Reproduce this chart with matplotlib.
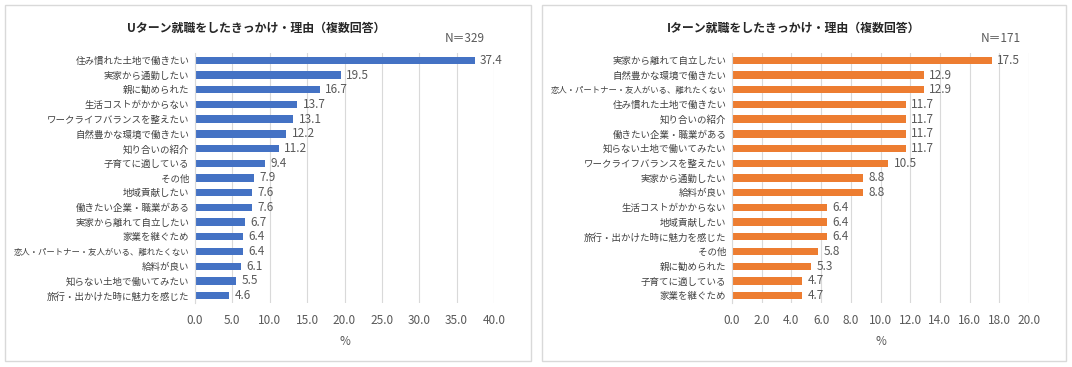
import matplotlib.pyplot as plt
from matplotlib.patches import Rectangle

plt.rcParams['font.family'] = ['Noto Sans CJK JP', 'DejaVu Sans']

# Uターン
u_labels = ['住み慣れた土地で働きたい', '実家から通勤したい', '親に勧められた', '生活コストがかからない',
            'ワークライフバランスを整えたい', '自然豊かな環境で働きたい', '知り合いの紹介', '子育てに適している',
            'その他', '地域貢献したい', '働きたい企業・職業がある', '実家から離れて自立したい',
            '家業を継ぐため', '恋人・パートナー・友人がいる、離れたくない', '給料が良い',
            '知らない土地で働いてみたい', '旅行・出かけた時に魅力を感じた']
u_values = [37.4, 19.5, 16.7, 13.7, 13.1, 12.2, 11.2, 9.4, 7.9, 7.6, 7.6, 6.7, 6.4, 6.4, 6.1, 5.5, 4.6]

# Iターン
i_labels = ['実家から離れて自立したい', '自然豊かな環境で働きたい', '恋人・パートナー・友人がいる、離れたくない',
            '住み慣れた土地で働きたい', '知り合いの紹介', '働きたい企業・職業がある', '知らない土地で働いてみたい',
            'ワークライフバランスを整えたい', '実家から通勤したい', '給料が良い', '生活コストがかからない',
            '地域貢献したい', '旅行・出かけた時に魅力を感じた', 'その他', '親に勧められた',
            '子育てに適している', '家業を継ぐため']
i_values = [17.5, 12.9, 12.9, 11.7, 11.7, 11.7, 11.7, 10.5, 8.8, 8.8, 6.4, 6.4, 6.4, 5.8, 5.3, 4.7, 4.7]

W, H = 1072, 367
TXT = '#595959'
GRID = '#D9D9D9'

fig = plt.figure(figsize=(W / 100, H / 100), dpi=100)


def px_axes(x0, y0, x1, y1):
    return fig.add_axes([x0 / W, 1 - y1 / H, (x1 - x0) / W, (y1 - y0) / H])


def panel(box, ax_box, labels, values, color, xmax, step, title, title_x, n_text, n_x):
    bx0, by0, bx1, by1 = box
    fig.patches.append(Rectangle((bx0 / W, 1 - by1 / H), (bx1 - bx0) / W, (by1 - by0) / H,
                                 transform=fig.transFigure, fill=False, edgecolor='#D9D9D9', lw=1))
    ax = px_axes(*ax_box)
    y = list(range(len(labels)))
    bars = ax.barh(y, values, height=0.5, color=color)
    ax.set_ylim(len(labels) - 0.5, -0.5)
    ax.set_xlim(0, xmax)
    ticks = [i * step for i in range(int(round(xmax / step)) + 1)]
    ax.set_xticks(ticks)
    ax.set_xticklabels([f'{t:.1f}' for t in ticks])
    ax.set_yticks(y)
    ax.set_yticklabels(labels)
    ax.tick_params(axis='both', length=0, colors=TXT)
    ax.tick_params(axis='x', pad=8, labelsize=8.5)
    ax.tick_params(axis='y', pad=4, labelsize=6.8, labelcolor='#404040')
    # the longest label is set a little smaller so it stays inside the panel
    for t in ax.get_yticklabels():
        if len(t.get_text()) > 18:
            t.set_fontsize(6.0)
    ax.grid(axis='x', color=GRID, lw=0.8)
    ax.set_axisbelow(True)
    for s in ['top', 'right', 'bottom']:
        ax.spines[s].set_visible(False)
    ax.spines['left'].set_color(GRID)
    ax.bar_label(bars, labels=[f'{v:.1f}' for v in values], padding=4, fontsize=8.5, color=TXT)
    ax.set_xlabel('%', fontsize=8.5, color=TXT, labelpad=6)
    fig.text(title_x / W, 1 - 28 / H, title, ha='center', va='center', fontsize=8.6,
             fontweight='bold', color='#262626')
    fig.text(n_x / W, 1 - 39 / H, n_text, ha='center', va='center', fontsize=8.5, color=TXT)
    return ax


panel((5, 5, 531, 361), (195, 53, 494, 303), u_labels, u_values, '#4472C4', 40, 5,
      'Uターン就職をしたきっかけ・理由（複数回答）', 256, 'N＝329', 465)
panel((542, 5, 1066, 361), (732, 53, 1029, 303), i_labels, i_values, '#ED7D31', 20, 2,
      'Iターン就職をしたきっかけ・理由（複数回答）', 794, 'N＝171', 1001)

fig.savefig('out.png', dpi=100)
